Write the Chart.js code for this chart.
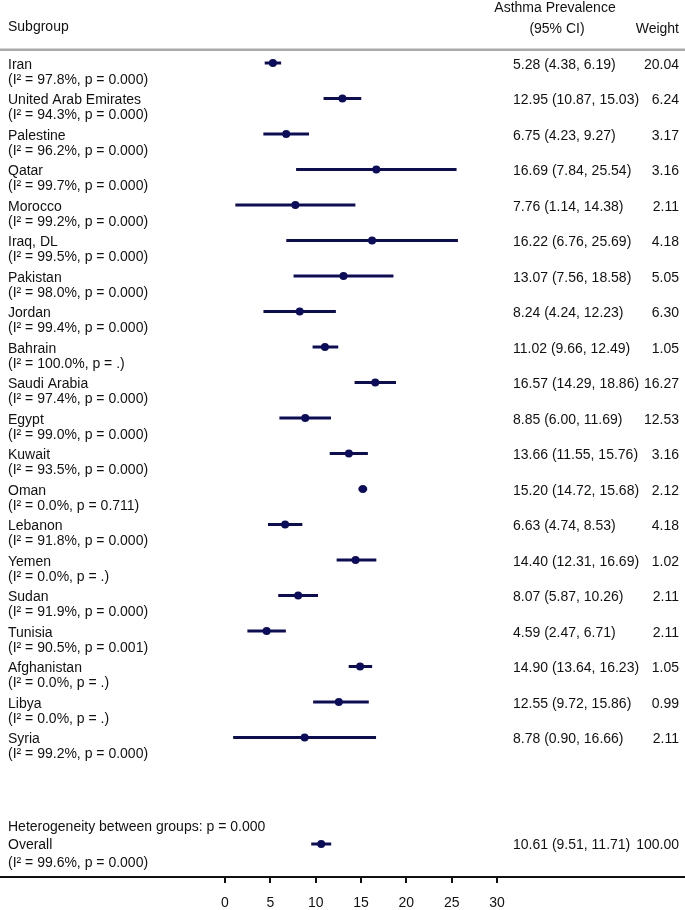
<!DOCTYPE html>
<html>
<head>
<meta charset="utf-8">
<script src="https://cdn.jsdelivr.net/npm/chart.js@4.4.1/dist/chart.umd.min.js"></script>
<style>
  html, body { margin: 0; padding: 0; background: #fff; }
  canvas { display: block; }
</style>
</head>
<body>
<canvas id="forest" width="685" height="910"></canvas>
<script>
// Forest plot: asthma prevalence by country subgroup
const subgroups = ['Iran', 'United Arab Emirates', 'Palestine', 'Qatar', 'Morocco', 'Iraq, DL',
  'Pakistan', 'Jordan', 'Bahrain', 'Saudi Arabia', 'Egypt', 'Kuwait', 'Oman', 'Lebanon',
  'Yemen', 'Sudan', 'Tunisia', 'Afghanistan', 'Libya', 'Syria'];
const i2Values = ['97.8%', '94.3%', '96.2%', '99.7%', '99.2%', '99.5%', '98.0%', '99.4%', '100.0%', '97.4%',
  '99.0%', '93.5%', '0.0%', '91.8%', '0.0%', '91.9%', '90.5%', '0.0%', '0.0%', '99.2%'];
const pValues = ['0.000', '0.000', '0.000', '0.000', '0.000', '0.000', '0.000', '0.000', '.', '0.000',
  '0.000', '0.000', '0.711', '0.000', '.', '0.000', '0.001', '.', '.', '0.000'];
const estimates = [5.28, 12.95, 6.75, 16.69, 7.76, 16.22, 13.07, 8.24, 11.02, 16.57,
  8.85, 13.66, 15.20, 6.63, 14.40, 8.07, 4.59, 14.90, 12.55, 8.78];
const lowerCI = [4.38, 10.87, 4.23, 7.84, 1.14, 6.76, 7.56, 4.24, 9.66, 14.29,
  6.00, 11.55, 14.72, 4.74, 12.31, 5.87, 2.47, 13.64, 9.72, 0.90];
const upperCI = [6.19, 15.03, 9.27, 25.54, 14.38, 25.69, 18.58, 12.23, 12.49, 18.86,
  11.69, 15.76, 15.68, 8.53, 16.69, 10.26, 6.71, 16.23, 15.86, 16.66];
const weights = ['20.04', '6.24', '3.17', '3.16', '2.11', '4.18', '5.05', '6.30', '1.05', '16.27',
  '12.53', '3.16', '2.12', '4.18', '1.02', '2.11', '2.11', '1.05', '0.99', '2.11'];

const overallEstimate = 10.61;
const overallLower = 9.51;
const overallUpper = 11.71;
const overallWeight = '100.00';
const overallI2 = '99.6%';
const overallP = '0.000';
const heterogeneityP = '0.000';

const xTicks = [0, 5, 10, 15, 20, 25, 30];

// row index of each subgroup (top = 0), overall sits after a gap
const rows = subgroups.map((_, i) => i);
const overallRow = 22;

const navy = 'rgb(12,12,92)';
const textColor = '#111';
const font = '14px "Liberation Sans", Arial, sans-serif';

const ciDatasets = rows.map(i => ({
  showLine: true,
  data: [{ x: lowerCI[i], y: i }, { x: upperCI[i], y: i }],
  borderColor: navy,
  borderWidth: 3,
  pointRadius: 0
}));
ciDatasets.push({
  showLine: true,
  data: [{ x: overallLower, y: overallRow }, { x: overallUpper, y: overallRow }],
  borderColor: navy,
  borderWidth: 3,
  pointRadius: 0
});

const pointDataset = {
  data: rows.map(i => ({ x: estimates[i], y: i })).concat([{ x: overallEstimate, y: overallRow }]),
  backgroundColor: navy,
  borderColor: navy,
  borderWidth: 0,
  pointRadius: 4
};

// text columns, header and rules
const tablePlugin = {
  id: 'tableText',
  afterDraw(chart) {
    const ctx = chart.ctx;
    const y = chart.scales.y;
    const rowH = y.getPixelForValue(1) - y.getPixelForValue(0);
    const top = y.getPixelForValue(0);
    ctx.save();
    ctx.font = font;
    ctx.fillStyle = textColor;
    ctx.textBaseline = 'middle';

    // header
    ctx.textAlign = 'left';
    ctx.fillText('Subgroup', 8, top - rowH * 1.02);
    ctx.textAlign = 'center';
    ctx.fillText('Asthma Prevalence', 555, top - rowH * 1.55);
    ctx.fillText('(95% CI)', 557, top - rowH * 0.96);
    ctx.textAlign = 'right';
    ctx.fillText('Weight', 679, top - rowH * 0.96);

    ctx.strokeStyle = '#aaaaaa';
    ctx.lineWidth = 2.5;
    ctx.beginPath();
    ctx.moveTo(0, top - rowH * 0.37);
    ctx.lineTo(chart.width, top - rowH * 0.37);
    ctx.stroke();

    rows.forEach(i => {
      const py = y.getPixelForValue(i);
      ctx.textAlign = 'left';
      ctx.fillText(subgroups[i], 8, py + 2);
      ctx.fillText('(I\u00b2 = ' + i2Values[i] + ', p = ' + pValues[i] + ')', 8, py + 17);
      ctx.fillText(estimates[i].toFixed(2) + ' (' + lowerCI[i].toFixed(2) + ', ' + upperCI[i].toFixed(2) + ')', 513, py + 2);
      ctx.textAlign = 'right';
      ctx.fillText(weights[i], 679, py + 2);
    });

    const oy = y.getPixelForValue(overallRow);
    ctx.textAlign = 'left';
    ctx.fillText('Heterogeneity between groups: p = ' + heterogeneityP, 8, oy - 17);
    ctx.fillText('Overall', 8, oy + 1);
    ctx.fillText('(I\u00b2 = ' + overallI2 + ', p = ' + overallP + ')', 8, oy + 19);
    ctx.fillText(overallEstimate.toFixed(2) + ' (' + overallLower.toFixed(2) + ', ' + overallUpper.toFixed(2) + ')', 513, oy + 1);
    ctx.textAlign = 'right';
    ctx.fillText(overallWeight, 679, oy + 1);
    ctx.restore();
  }
};

// scale limits so 0..30 lands between x=225 and x=497 on a full-width chart area
const pxPerUnit = 272 / 30;
const X_MIN = -225 / pxPerUnit;
const X_MAX = (685 - 225) / pxPerUnit;
const Y_MIN = -63 / 35.5;
const Y_MAX = (877 - 63) / 35.5;

new Chart(document.getElementById('forest'), {
  type: 'scatter',
  data: { datasets: [...ciDatasets, pointDataset] },
  options: {
    responsive: false,
    animation: false,
    clip: false,
    // tick padding is counted twice by Chart.js, pull the bottom in to keep the axis at y≈877
    layout: { padding: { top: 0, left: 0, right: 0, bottom: -13 }, autoPadding: false },
    plugins: { legend: { display: false }, tooltip: { enabled: false } },
    scales: {
      x: {
        type: 'linear',
        min: X_MIN,
        max: X_MAX,
        afterBuildTicks: scale => { scale.ticks = xTicks.map(v => ({ value: v })); },
        grid: { drawOnChartArea: false, drawTicks: true, tickLength: 6, color: '#111', lineWidth: 2 },
        border: { display: true, color: '#111', width: 2 },
        ticks: {
          color: textColor,
          font: { family: '"Liberation Sans", Arial, sans-serif', size: 14, lineHeight: 1 },
          padding: 13,
          maxRotation: 0,
          autoSkip: false
        }
      },
      y: { type: 'linear', display: false, reverse: true, min: Y_MIN, max: Y_MAX }
    }
  },
  plugins: [tablePlugin]
});
</script>
</body>
</html>
